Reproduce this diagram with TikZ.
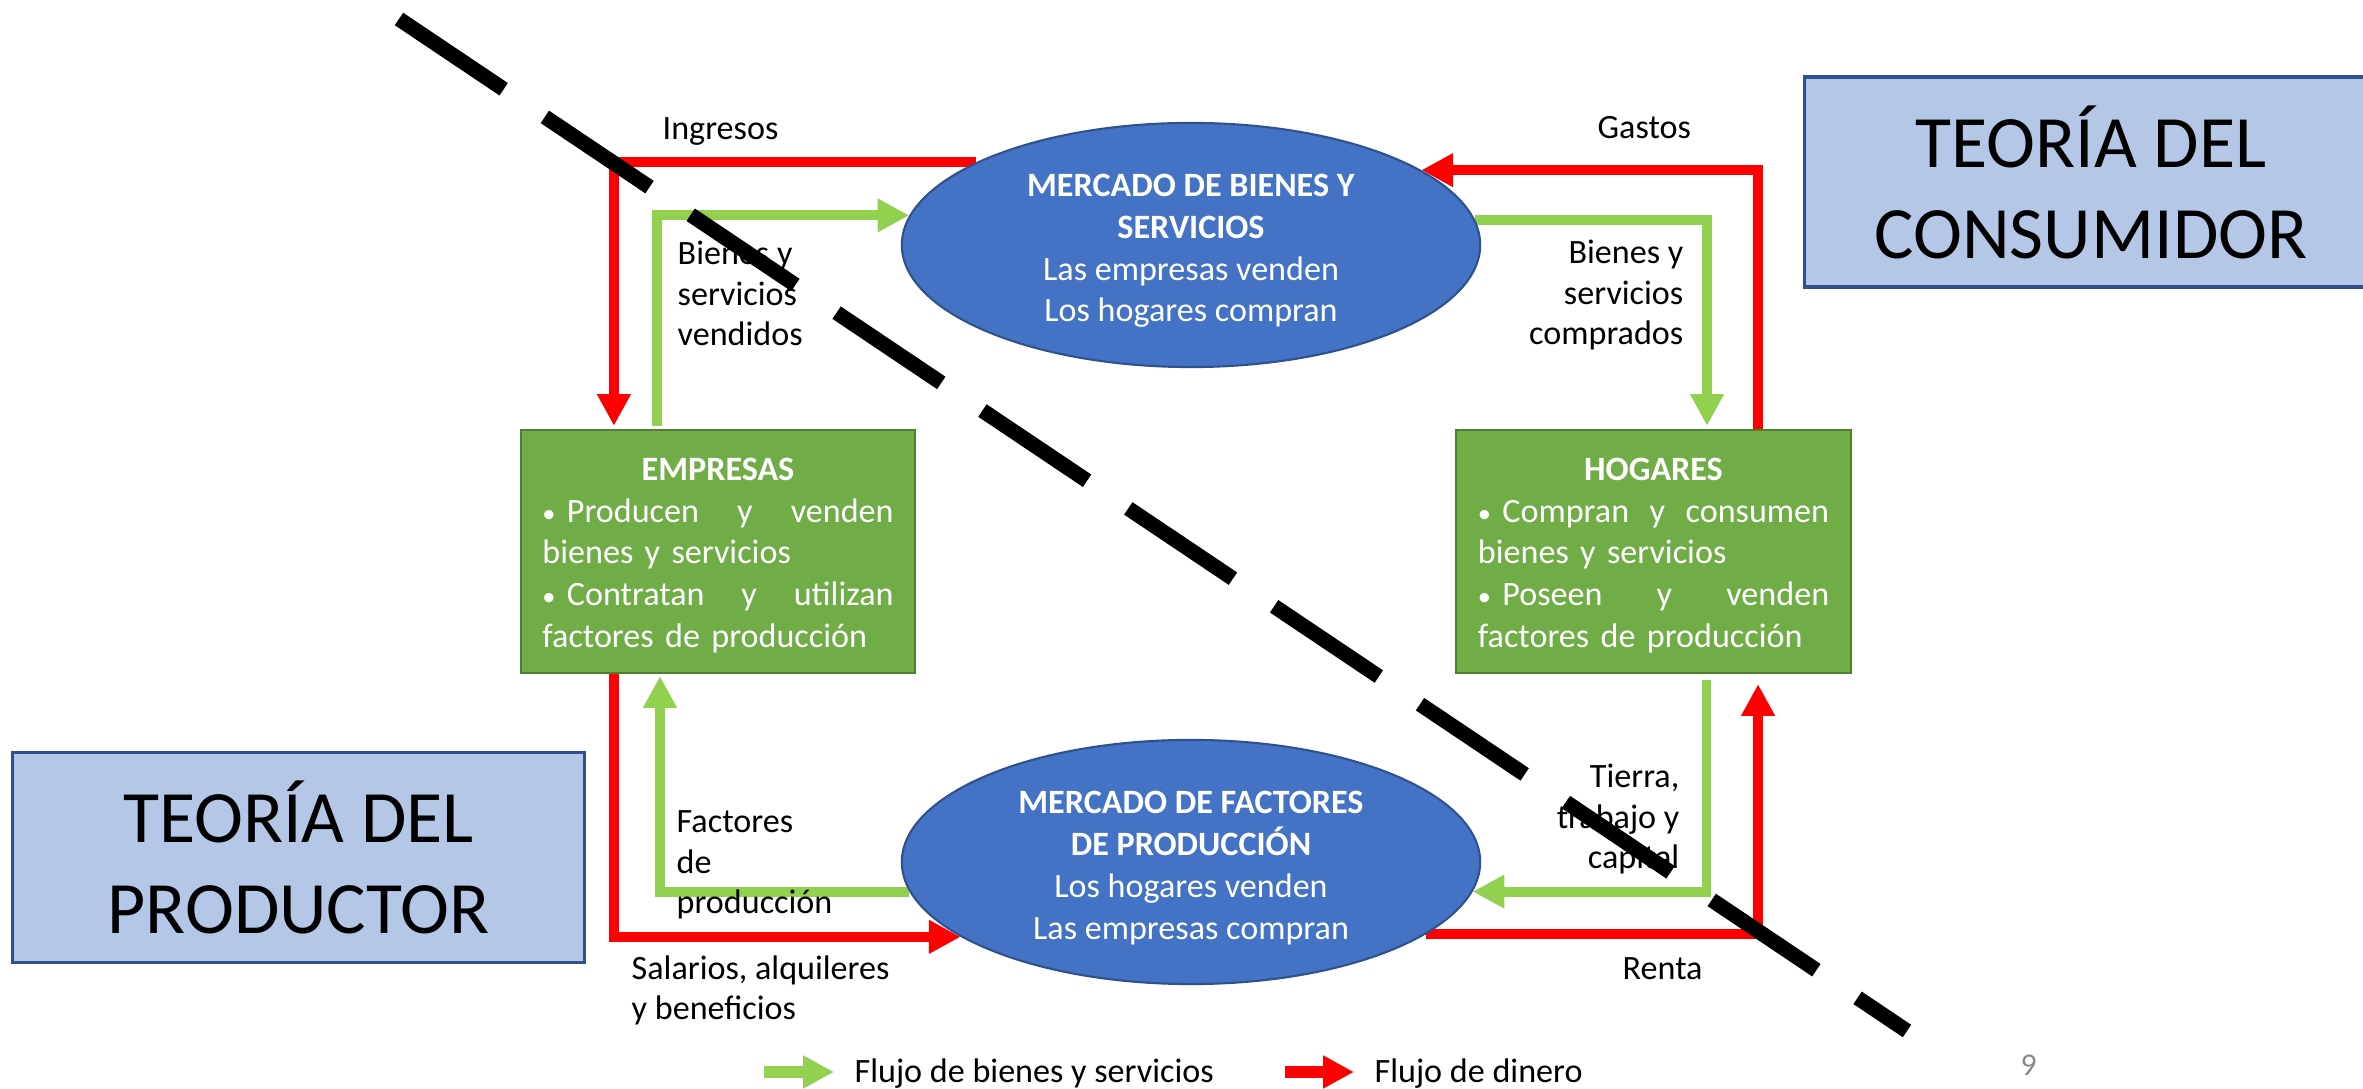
\documentclass[tikz,border=0pt]{standalone}
\usepackage{fontspec}
\setmainfont{Carlito}
\usetikzlibrary{arrows.meta,backgrounds,shapes.geometric}
\definecolor{rojo}{HTML}{FF0000}
\definecolor{verde}{HTML}{92D050}
\definecolor{cajaverde}{HTML}{70AD47}
\definecolor{bordeverde}{HTML}{507E32}
\definecolor{azul}{HTML}{4472C4}
\definecolor{bordeazul}{HTML}{2F528F}
\definecolor{celeste}{HTML}{B4C7E7}
\definecolor{gris}{HTML}{898989}
\newcommand{\vin}{{\fontsize{7.5}{7.5}\selectfont\textbullet}\ }
\tikzset{>={Triangle[length=9pt,width=9pt]}}
\tikzset{%
    caja/.style={draw=bordeverde, line width=0.6pt, fill=cajaverde, text=white,
        minimum width=3.94cm, minimum height=2.43cm, text width=3.51cm,
        align=left, inner sep=0pt, font=\fontsize{9.7}{11.9}\selectfont},
    mercado/.style={ellipse, draw=bordeazul, line width=0.6pt, fill=azul, text=white,
        minimum width=5.78cm, minimum height=2.44cm, inner sep=0pt, align=center,
        font=\fontsize{9.7}{11.9}\selectfont},
    teoria/.style={draw=bordeazul, line width=0.9pt, fill=celeste, align=center,
        minimum width=5.72cm, minimum height=2.1cm, font=\fontsize{21}{25.9}\selectfont},
    etiq/.style={inner sep=0pt, font=\fontsize{9.7}{11.6}\selectfont},
    dinero/.style={->, rojo, line width=2.8pt},
    bienes/.style={->, verde, line width=2.8pt},
    muestra/.style={-{Triangle[length=8.8pt,width=8.8pt]}, line width=3.4pt, draw=#1}
}
\begin{document}
\begin{tikzpicture}[x=0.01cm, y=-0.01cm]
    \useasboundingbox (0,0) rectangle (2363,1089);
    % mercados
    \node[mercado] (mercB) at (1191,245) {\rule{0pt}{9.7pt}\textbf{MERCADO DE BIENES Y}\\\textbf{SERVICIOS}\\Las empresas venden\\Los hogares compran};
    \node[mercado] (mercF) at (1191,862) {\rule{0pt}{9.7pt}\textbf{MERCADO DE FACTORES}\\\textbf{DE PRODUCCIÓN}\\Los hogares venden\\Las empresas compran};
    % agentes
    \node[caja] (empresas) at (718,551.5) {\rule{0pt}{8.6pt}\hfill\textbf{EMPRESAS}\hfill\null\\
        \vin Producen\hfill y\hfill venden\\ bienes y servicios\\
        \vin Contratan\hfill y\hfill utilizan\\ factores de producción};
    \node[caja] (hogares) at (1653.5,551.5) {\rule{0pt}{8.6pt}\hfill\textbf{HOGARES}\hfill\null\\
        \vin Compran\hfill y\hfill consumen\\ bienes y servicios\\
        \vin Poseen\hfill y\hfill venden\\ factores de producción};
    % teorias
    \node[teoria] (tprod) at (298.5,857.5) {TEORÍA DEL\\PRODUCTOR};
    \node[teoria] (tcons) at (2091,182) {TEORÍA DEL\\CONSUMIDOR};
    % flujos
    \begin{scope}[on background layer]
        \draw[dinero] (mercB.159) -| ([xshift=-1.04cm,yshift=0.03cm]empresas.north);
        \draw[bienes] ([xshift=-0.61cm,yshift=0.03cm]empresas.north) |- (mercB.174);
        \draw[dinero] ([xshift=1.045cm]hogares.north) |- (mercB.18);
        \draw[bienes] (mercB.5) -| ([xshift=0.535cm,yshift=0.03cm]hogares.north);
        \draw[bienes] ([xshift=0.53cm,yshift=-0.06cm]hogares.south) |- (mercF.354);
        \draw[dinero] (mercF.343) -| ([xshift=1.045cm,yshift=-0.1cm]hogares.south);
        \draw[dinero] ([xshift=-1.04cm]empresas.south) |- (mercF.198);
        \draw[bienes] (mercF.186) -| ([xshift=-0.58cm,yshift=-0.02cm]empresas.south);
    \end{scope}
    % etiquetas (base = ultima linea)
    \node[etiq, anchor=base west] (ingresos) at (662,140) {Ingresos};
    \node[etiq, anchor=base west] (gastos) at (1597,139) {Gastos};
    \node[etiq, anchor=base west, align=left] (vendidos) at (677,346) {Bienes y\\servicios\\vendidos};
    \node[etiq, anchor=base east, align=right] (comprados) at (1684,345) {Bienes y\\servicios\\comprados};
    \node[etiq, anchor=base west, align=left] (factores) at (676,914) {Factores\\de\\producción};
    \node[etiq, anchor=base east, align=right] (tierra) at (1680,869) {Tierra,\\trabajo y\\capital};
    \node[etiq, anchor=base west, align=left] (salarios) at (631,1020) {Salarios, alquileres\\y beneficios};
    \node[etiq, anchor=base west] (renta) at (1622,980) {Renta};
    % leyenda
    \node[etiq, anchor=base west] (leyB) at (854,1083) {Flujo de bienes y servicios};
    \node[etiq, anchor=base west] (leyD) at (1374,1083) {Flujo de dinero};
    \draw[muestra=verde] (764,1072) -- (834,1072);
    \draw[muestra=rojo] (1285,1072) -- (1354,1072);
    \node[etiq, anchor=base west, text=gris, font=\fontsize{9}{10}\selectfont] (pagina) at (2020,1076) {9};
    % division
    \draw[line width=4.27pt, dash pattern=on 35.85pt off 14.1pt] (399,19) -- (1907,1031);
\end{tikzpicture}
\end{document}
